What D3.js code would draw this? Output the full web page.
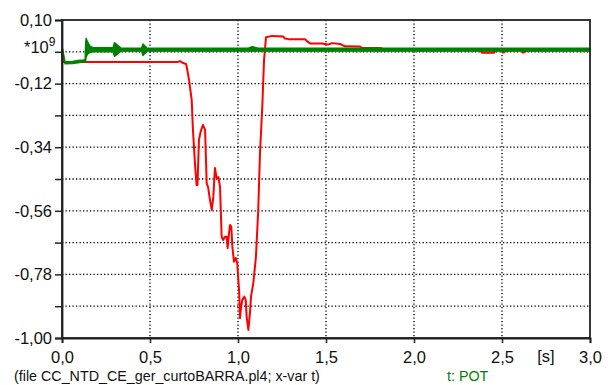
<!DOCTYPE html>
<html>
<head>
<meta charset="utf-8">
<script src="https://cdn.jsdelivr.net/npm/d3@7"></script>
<style>
  html, body { margin: 0; padding: 0; background: #fff; }
  svg { display: block; font-family: "Liberation Sans", Arial, sans-serif; }
</style>
</head>
<body>
<svg id="chart" width="608" height="385"></svg>
<script>
// Time axis [s] and y axis values (scaled by 10^9)
const xTicks = [0, 0.5, 1.0, 1.5, 2.0, 2.5, 3.0];
const yTicks = [0.10, -0.01, -0.12, -0.23, -0.34, -0.45, -0.56, -0.67, -0.78, -0.89, -1.00];
const yLabelled = [0.10, -0.12, -0.34, -0.56, -0.78, -1.00];

// Red trace
const redT = [0, 0.006, 0.659, 0.670, 0.688, 0.705, 0.710, 0.722, 0.737, 0.744, 0.756, 0.765, 0.770,
  0.778, 0.788, 0.801, 0.813, 0.822, 0.830, 0.841, 0.851, 0.860, 0.869, 0.879, 0.888, 0.898,
  0.907, 0.916, 0.926, 0.936, 0.941, 0.949, 0.955, 0.962, 0.968, 0.977, 0.987, 0.996, 1.002,
  1.007, 1.011, 1.017, 1.024, 1.036, 1.044, 1.049, 1.059, 1.068, 1.074, 1.087, 1.102, 1.115,
  1.125, 1.138, 1.148, 1.159, 1.193, 1.256, 1.267, 1.295, 1.381, 1.392, 1.409, 1.477, 1.511,
  1.534, 1.580, 1.608, 1.693, 1.705, 1.807, 1.835, 2.375, 2.386, 2.455, 2.466, 2.500, 2.506,
  2.530, 2.610, 2.620, 2.650, 3.0];
const redV = [0, -0.045, -0.045, -0.042, -0.049, -0.052, -0.066, -0.108, -0.177, -0.280, -0.402, -0.471, -0.471,
  -0.315, -0.286, -0.263, -0.280, -0.464, -0.478, -0.523, -0.557, -0.511, -0.412, -0.447, -0.443, -0.477,
  -0.650, -0.661, -0.650, -0.650, -0.689, -0.637, -0.609, -0.615, -0.684, -0.736, -0.723, -0.742, -0.799,
  -0.844, -0.931, -0.896, -0.869, -0.857, -0.869, -0.926, -0.972, -0.913, -0.857, -0.810, -0.719, -0.557,
  -0.360, -0.200, -0.038, 0.040, 0.045, 0.043, 0.036, 0.033, 0.033, 0.027, 0.019, 0.019, 0.015,
  0.020, 0.017, 0.009, 0.008, 0.003, 0.003, -0.003, -0.004, -0.013, -0.013, -0.004, -0.004, -0.013,
  -0.004, -0.004, -0.013, -0.004, -0.004];

// POT trace: upper and lower envelope of the oscillating signal
const potT  = [0, 0.004, 0.017, 0.060, 0.090, 0.120, 0.131, 0.134, 0.137, 0.145, 0.159, 0.178, 0.216,
  0.290, 0.298, 0.335, 0.452, 0.460, 0.483, 0.784, 1.060, 1.080, 1.114, 3.0];
const potHi = [0.006, 0.0, -0.044, -0.043, -0.040, -0.038, -0.037, 0.020, 0.037, 0.025, 0.010, 0.004, 0.004,
  0.004, 0.022, 0.003, 0.003, 0.017, 0.003, 0.003, 0.003, 0.008, 0.003, 0.003];
const potLo = [-0.003, -0.010, -0.052, -0.051, -0.048, -0.046, -0.045, -0.045, -0.029, -0.018, -0.012, -0.010, -0.010,
  -0.010, -0.026, -0.008, -0.008, -0.023, -0.008, -0.008, -0.008, -0.008, -0.008, -0.008];

const comma = v => v.toFixed(2).replace(".", ",");
const svg = d3.select("#chart");
const plotL = 62, plotR = 590, plotT = 20, plotB = 338;

const x = d3.scaleLinear().domain([0, 3]).range([plotL, plotR]);
const y = d3.scaleLinear().domain([-1.0, 0.1]).range([plotB, plotT]);

// dotted grid
const grid = svg.append("g").attr("stroke", "#000").attr("stroke-width", 1.3).attr("stroke-dasharray", "1.3,2.2");
grid.selectAll("line.h").data(yTicks.slice(1, -1)).join("line")
  .attr("x1", plotL).attr("x2", plotR).attr("y1", d => y(d)).attr("y2", d => y(d));
grid.selectAll("line.v").data(xTicks.slice(1, -1)).join("line")
  .attr("y1", plotT).attr("y2", plotB).attr("x1", d => x(d)).attr("x2", d => x(d));

// red trace
const redData = redT.map((t, i) => [t, redV[i]]);
svg.append("path").datum(redData)
  .attr("fill", "none").attr("stroke", "#ff0000").attr("stroke-width", 2)
  .attr("stroke-linejoin", "round")
  .attr("d", d3.line().x(d => x(d[0])).y(d => y(d[1])));

// POT trace (green band)
const potData = potT.map((t, i) => [t, potHi[i], potLo[i]]);
svg.append("path").datum(potData)
  .attr("fill", "#008000").attr("stroke", "#008000").attr("stroke-width", 1.3)
  .attr("stroke-linejoin", "round")
  .attr("d", d3.area().x(d => x(d[0])).y0(d => y(d[2])).y1(d => y(d[1])));

// frame
svg.append("rect").attr("x", plotL).attr("y", plotT).attr("width", plotR - plotL).attr("height", plotB - plotT)
  .attr("fill", "none").attr("stroke", "#222").attr("stroke-width", 1.8);

// axes
const yAxis = d3.axisLeft(y).tickValues(yTicks).tickSize(7).tickPadding(3)
  .tickFormat(d => yLabelled.some(v => Math.abs(v - d) < 1e-9) ? comma(d) : "");
const gy = svg.append("g").attr("transform", `translate(${plotL},0)`).call(yAxis);
const xAxis = d3.axisBottom(x).tickValues(xTicks).tickSize(5).tickPadding(8)
  .tickFormat(d => d.toFixed(1).replace(".", ","));
const gx = svg.append("g").attr("transform", `translate(0,${plotB})`).call(xAxis);
[gx, gy].forEach(g => {
  g.select(".domain").attr("stroke", "#222").attr("stroke-width", 1.8);
  g.selectAll(".tick line").attr("stroke", "#222").attr("stroke-width", 1.5);
  g.selectAll(".tick text").attr("fill", "#111").style("font-size", "16.5px")
    .style("font-family", "'Liberation Sans', Arial, sans-serif");
});

// scale factor label
const sf = svg.append("text").attr("x", 24).attr("y", 53).attr("fill", "#111")
  .style("font-size", "16.5px");
sf.append("tspan").text("*10");
sf.append("tspan").attr("dy", -7).style("font-size", "12px").text("9");

// unit label
svg.append("text").attr("x", 546).attr("y", 362).attr("text-anchor", "middle")
  .attr("fill", "#111").style("font-size", "16.5px").text("[s]");

// footer
svg.append("text").attr("x", 14).attr("y", 381).attr("fill", "#111")
  .style("font-size", "14.3px").text("(file CC_NTD_CE_ger_curtoBARRA.pl4; x-var t)");
svg.append("text").attr("x", 447).attr("y", 381).attr("fill", "#008000")
  .style("font-size", "14.3px").text("t: POT");
</script>
</body>
</html>
